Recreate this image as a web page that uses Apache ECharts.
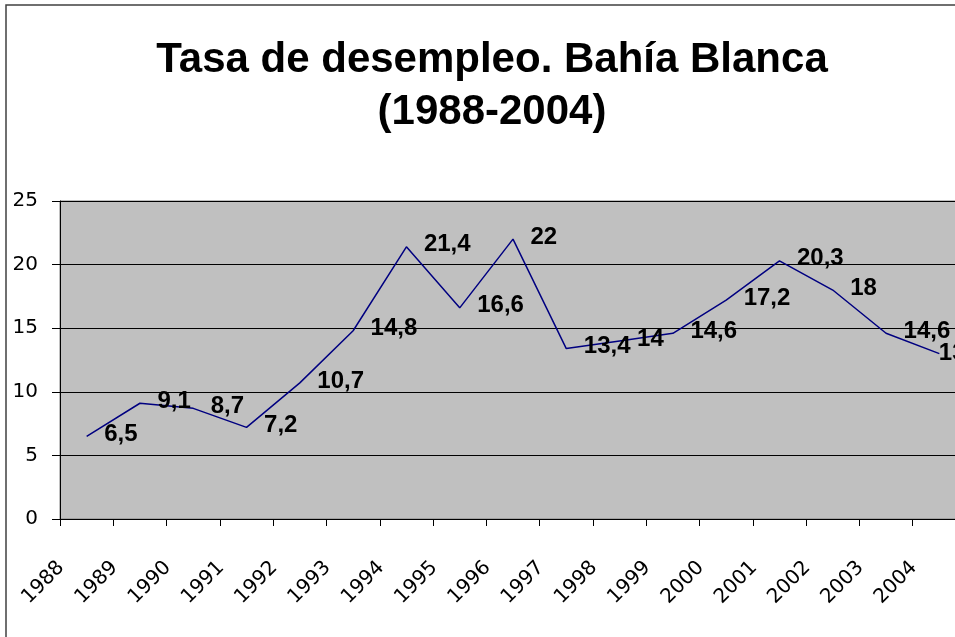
<!DOCTYPE html>
<html>
<head>
<meta charset="utf-8">
<script src="https://cdn.jsdelivr.net/npm/echarts@6/dist/echarts.min.js"></script>
<style>
  html, body { margin: 0; padding: 0; background: #fff; overflow: hidden; }
  /* el grafico original queda cortado por la derecha */
  #chart { width: 975px; height: 637px; }
</style>
</head>
<body>
<div id="chart"></div>
<script>
// datos
const years = ['1988','1989','1990','1991','1992','1993','1994','1995','1996','1997','1998','1999','2000','2001','2002','2003','2004'];
const tasa = [6.5, 9.1, 8.7, 7.2, 10.7, 14.8, 21.4, 16.6, 22, 13.4, 14, 14.6, 17.2, 20.3, 18, 14.6, 13];
const yTicks = [0, 5, 10, 15, 20, 25];

const chart = echarts.init(document.getElementById('chart'));

// el ultimo rotulo queda pegado al punto
const seriesData = tasa.map((v, i) => {
  if (i === tasa.length - 1) {
    return { value: v, label: { distance: -1, offset: [0, 0] } };
  }
  return v;
});

const option = {
  animation: false,
  title: {
    text: 'Tasa de desempleo. Bahía Blanca\n(1988-2004)',
    left: 487,
    top: 29,
    textAlign: 'center',
    textStyle: {
      fontFamily: 'Liberation Sans',
      fontSize: 42,
      fontWeight: 'bold',
      color: '#000',
      lineHeight: 52
    }
  },
  graphic: [
    {
      type: 'rect',
      shape: { x: 6, y: 5, width: 1000, height: 1000 },
      style: { fill: 'none', stroke: '#404040', lineWidth: 1.5 },
      silent: true
    }
  ],
  grid: {
    left: 60,
    top: 201,
    right: 9,
    bottom: 118,
    show: true,
    backgroundColor: '#C0C0C0',
    borderColor: '#808080',
    borderWidth: 1
  },
  xAxis: {
    type: 'category',
    data: years,
    boundaryGap: true,
    axisLine: { lineStyle: { color: '#000', width: 1 } },
    axisTick: { show: true, length: 7, lineStyle: { color: '#000' } },
    axisLabel: {
      rotate: 45,
      interval: 0,
      margin: 20,
      padding: [0, 36, 0, 0],
      fontFamily: 'DejaVu Sans',
      fontSize: 20,
      color: '#000'
    }
  },
  yAxis: {
    type: 'value',
    min: yTicks[0],
    max: yTicks[yTicks.length - 1],
    interval: 5,
    axisLine: { show: true, lineStyle: { color: '#000', width: 1 } },
    axisTick: { show: true, length: 8, lineStyle: { color: '#000' } },
    splitLine: { lineStyle: { color: '#000', width: 1 } },
    axisLabel: {
      margin: 22,
      fontFamily: 'DejaVu Sans',
      fontSize: 20,
      color: '#000'
    }
  },
  series: [
    {
      type: 'line',
      data: seriesData,
      showSymbol: true,
      symbol: 'circle',
      symbolSize: 1,
      itemStyle: { color: 'rgba(0,0,0,0)' },
      lineStyle: { color: '#000080', width: 1.5 },
      label: {
        show: true,
        position: 'right',
        distance: 17,
        offset: [0, -2],
        fontFamily: 'Liberation Sans',
        fontSize: 24,
        fontWeight: 'bold',
        color: '#000',
        formatter: p => String(p.value).replace('.', ',')
      }
    }
  ]
};

chart.setOption(option);
</script>
</body>
</html>
